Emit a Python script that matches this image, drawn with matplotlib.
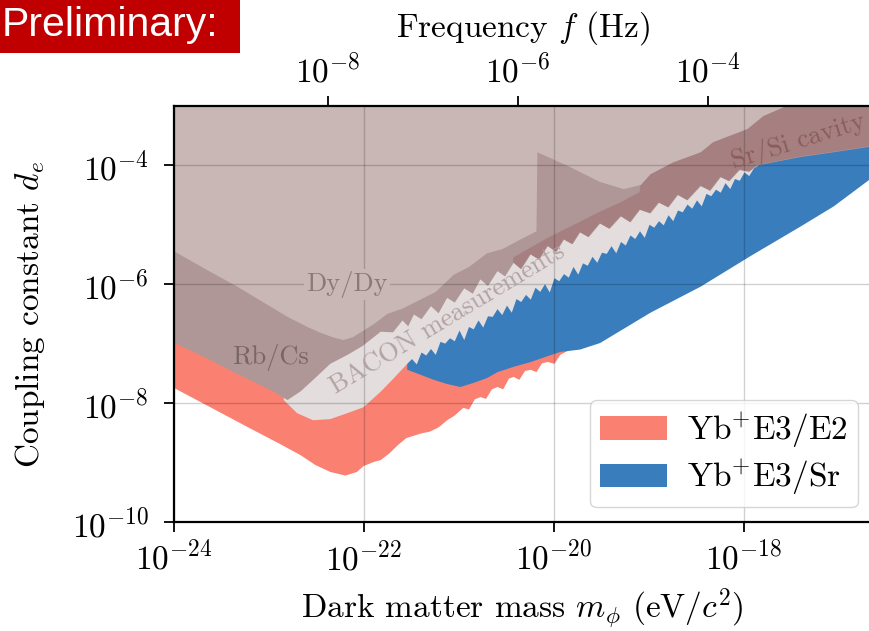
import numpy as np
import matplotlib
matplotlib.use("Agg")
import matplotlib.pyplot as plt
from matplotlib.patches import Patch, Rectangle
from matplotlib.ticker import NullLocator, FixedLocator

plt.rcParams["font.family"] = "serif"
plt.rcParams["font.serif"] = ["cmr10"]
plt.rcParams["mathtext.fontset"] = "cm"
plt.rcParams["axes.formatter.use_mathtext"] = True
plt.rcParams["font.size"] = 24

# ---------------- data (log10 of mass in eV/c^2, log10 of coupling d_e) -------------
# Yb+ E3/E2 exclusion: lower edge
SALMON_M = [-24.00, -23.60, -23.20, -22.90, -22.67, -22.52, -22.36, -22.20, -22.08, -22.01,
            -21.90, -21.83, -21.74, -21.65, -21.56, -21.48, -21.40, -21.31, -21.22, -21.13,
            -21.05, -20.96, -20.90, -20.84, -20.78, -20.72, -20.66, -20.60, -20.54, -20.48,
            -20.43, -20.37, -20.31, -20.25, -20.19, -20.13, -20.07, -20.00, -19.94, -19.73,
            -19.52, -16.60]
SALMON_LO = [-7.74, -8.08, -8.42, -8.67, -8.87, -9.03, -9.15, -9.21, -9.15, -9.05,
             -8.98, -8.95, -8.84, -8.70, -8.58, -8.54, -8.50, -8.47, -8.40, -8.28,
             -8.20, -8.07, -8.10, -7.93, -7.89, -7.92, -7.76, -7.72, -7.76, -7.58,
             -7.55, -7.60, -7.45, -7.43, -7.47, -7.32, -7.30, -7.33, -7.18, -7.00,
             -6.86, -4.05]

# Yb+ E3/Sr exclusion: lower edge
BLUE_M = [-21.55, -21.40, -21.27, -21.13, -20.99, -20.85, -20.71, -20.60, -20.43, -20.25,
          -20.07, -19.94, -19.73, -19.52, -18.99, -18.46, -17.94, -17.41, -17.06, -16.65]
BLUE_LO = [-7.43, -7.52, -7.60, -7.67, -7.72, -7.65, -7.57, -7.47, -7.38, -7.30,
           -7.20, -7.13, -7.09, -6.98, -6.47, -6.03, -5.52, -5.02, -4.68, -4.19]

# BACON measurements: lower edge (smooth part, then jagged part over Yb+E3/Sr)
BACON_M = [-22.85, -22.71, -22.54, -22.36, -22.18, -22.01, -21.83, -21.69, -21.55]
BACON_LO = [-7.94, -8.16, -8.28, -8.26, -8.16, -8.06, -7.80, -7.57, -7.33]
BACON_PEAK_M = [-21.5, -21.4, -21.3, -21.2, -21.1, -21.0, -20.9, -20.8, -20.7, -20.6,
                -20.5, -20.4, -20.3, -20.2, -20.1, -20.0, -19.9, -19.8, -19.7, -19.6,
                -19.5, -19.4, -19.3, -19.2, -19.1, -19.0, -18.9, -18.8, -18.7, -18.6,
                -18.5, -18.4, -18.3, -18.2, -18.1, -18.0, -17.9, -17.86]
BACON_PEAK_LO = [-7.25, -7.14, -7.08, -6.96, -6.90, -6.77, -6.71, -6.60, -6.53, -6.41,
                 -6.35, -6.24, -6.17, -6.05, -5.99, -5.89, -5.82, -5.70, -5.64, -5.53,
                 -5.46, -5.35, -5.28, -5.17, -5.10, -4.99, -4.93, -4.83, -4.75, -4.65,
                 -4.58, -4.47, -4.40, -4.29, -4.22, -4.11, -4.04, -4.00]
BACON_DIP_M = [-21.45, -21.35, -21.25, -21.15, -21.05, -20.95, -20.85, -20.75, -20.65, -20.55,
               -20.45, -20.35, -20.25, -20.15, -20.05, -19.95, -19.85, -19.75, -19.65, -19.55,
               -19.45, -19.35, -19.25, -19.15, -19.05, -18.95, -18.85, -18.75, -18.65, -18.55,
               -18.45, -18.35, -18.25, -18.15, -18.05, -17.95]
BACON_DIP_LO = [-7.34, -7.19, -7.18, -6.99, -6.95, -6.93, -6.75, -6.72, -6.54, -6.51,
                -6.47, -6.29, -6.25, -6.12, -6.13, -5.94, -5.88, -5.83, -5.68, -5.63,
                -5.48, -5.47, -5.34, -5.23, -5.21, -5.04, -5.00, -4.93, -4.78, -4.72,
                -4.68, -4.51, -4.45, -4.39, -4.25, -4.17]

# Rb/Cs and other constraints: lower edge (= upper edge of BACON band)
DARK_M = [-24.00, -23.67, -23.34, -22.99, -22.81, -22.67, -22.54, -22.36, -22.18, -22.02,
          -21.83, -21.70, -21.60, -21.54, -21.48, -21.40, -21.30, -21.22, -21.13, -21.05,
          -20.95, -20.86, -20.78, -20.70, -20.60, -20.52, -20.43, -20.35, -20.25, -20.16,
          -20.07, -19.98, -19.90, -19.81, -19.73, -19.64, -19.52, -19.42, -19.30, -19.20,
          -19.10, -18.99, -18.90, -18.80, -18.70, -18.60, -18.46, -18.36, -18.25, -18.16,
          -18.05, -17.95, -17.86, -17.41, -17.06, -16.65]
DARK_LO = [-6.98, -7.23, -7.50, -7.77, -7.94, -7.79, -7.60, -7.33, -7.18, -7.03,
           -6.79, -6.80, -6.60, -6.70, -6.50, -6.58, -6.36, -6.48, -6.22, -6.30,
           -6.06, -6.15, -5.91, -6.02, -5.77, -5.86, -5.63, -5.74, -5.49, -5.58,
           -5.35, -5.45, -5.24, -5.32, -5.12, -5.20, -4.97, -5.06, -4.85, -4.95,
           -4.74, -4.80, -4.62, -4.70, -4.49, -4.58, -4.34, -4.42, -4.19, -4.26,
           -4.07, -4.10, -3.99, -3.85, -3.77, -3.67]

# Sr/Si cavity (darker band) upper edge
SRSI_M = [-16.65, -17.60, -17.86, -18.05, -18.25, -18.46, -18.75, -18.99, -19.10, -19.30,
          -19.52, -19.73, -20.07, -20.43]
SRSI_HI = [-2.90, -2.90, -3.00, -3.00, -3.00, -3.00, -3.00, -3.00, -4.45, -4.62,
           -4.78, -4.95, -5.22, -5.55]

# Dy/Dy (light region) lower edge
LIGHT_M = [-24.00, -23.67, -23.34, -23.07, -22.81, -22.60, -22.46, -22.32, -22.22, -22.12,
           -22.01, -21.90, -21.76, -21.60, -21.41, -21.25, -21.06, -20.90, -20.71, -20.55,
           -20.36, -20.19, -20.18, -19.86, -19.52, -19.27, -19.09, -18.99, -18.75, -18.46,
           -18.33, -17.97, -17.80, -17.57, -17.45]
LIGHT_LO = [-5.44, -5.74, -6.03, -6.29, -6.54, -6.71, -6.81, -6.89, -6.93, -6.88,
            -6.77, -6.66, -6.49, -6.40, -6.25, -6.12, -5.83, -5.70, -5.47, -5.40,
            -5.24, -5.10, -3.77, -4.00, -4.27, -4.39, -4.32, -4.14, -3.94, -3.77,
            -3.60, -3.38, -3.16, -3.00, -3.00]

X_TICKS = [1e-24, 1e-22, 1e-20, 1e-18]
Y_TICKS = [1e-10, 1e-8, 1e-6, 1e-4]
F_TICKS = [1e-8, 1e-6, 1e-4]
LEGEND_LABELS = [r"Yb$^{+}$E3/E2", r"Yb$^{+}$E3/Sr"]

# ---------------- styling ----------------
C_SALMON = "#fa8072"
C_BLUE = "#3a7dbd"
C_BACON = "#e3dddd"
C_DARK = "#b09797"
C_SRSI = "#a68080"
C_LIGHT = "#c9b7b6"

H_EV = 4.135667e-15  # Planck constant in eV s

def p10(a):
    return np.power(10.0, np.asarray(a, dtype=float))

fig = plt.figure(figsize=(8.69, 6.31), dpi=100)
ax = fig.add_axes([174 / 869, 1 - 522 / 631, (871.6 - 174) / 869, (522 - 106) / 631])
ax.set_xscale("log")
ax.set_yscale("log")
TOP = 1e-2

ax.fill_between(p10(SALMON_M), p10(SALMON_LO), TOP, color=C_SALMON, lw=0, zorder=1.0)
ax.fill_between(p10(BLUE_M), p10(BLUE_LO), TOP, color=C_BLUE, lw=0, zorder=1.1)

bm = np.concatenate([BACON_M, BACON_PEAK_M, BACON_DIP_M])
bl = np.concatenate([BACON_LO, BACON_PEAK_LO, BACON_DIP_LO])
order = np.argsort(bm)
ax.fill_between(p10(bm[order]), p10(bl[order]), TOP, color=C_BACON, lw=0, zorder=1.2)

ax.fill_between(p10(DARK_M), p10(DARK_LO), TOP, color=C_DARK, lw=0, zorder=1.3)

# Sr/Si cavity polygon: lower edge follows the constraint edge, upper edge from SRSI arrays
dm = np.asarray(DARK_M)
dl = np.asarray(DARK_LO)
sel = dm >= min(SRSI_M) - 1e-9
poly_m = np.concatenate([dm[sel], SRSI_M])
poly_l = np.concatenate([dl[sel], SRSI_HI])
ax.fill(p10(poly_m), p10(poly_l), color=C_SRSI, lw=0, zorder=1.4)

ax.fill_between(p10(LIGHT_M), p10(LIGHT_LO), TOP, color=C_LIGHT, lw=0, zorder=1.5)

ax.set_xlim(1e-24, 10 ** (-24 + (871.6 - 174) / 95))
ax.set_ylim(1e-10, 1e-3)
ax.xaxis.set_major_locator(FixedLocator(X_TICKS))
ax.yaxis.set_major_locator(FixedLocator(Y_TICKS))
ax.xaxis.set_minor_locator(NullLocator())
ax.yaxis.set_minor_locator(NullLocator())
ax.set_axisbelow(False)
ax.grid(True, color="k", alpha=0.18, lw=1.0)
ax.tick_params(direction="out", length=7, width=1.3, labelsize=24, pad=6)
ax.tick_params(axis="y", pad=11)
for s in ax.spines.values():
    s.set_linewidth(1.6)

ax.set_xlabel(r"Dark matter mass $m_\phi$ (eV/$c^2$)", fontsize=24, labelpad=8)
ax.set_ylabel(r"Coupling constant $d_e$", fontsize=24, labelpad=18)

sec = ax.secondary_xaxis("top", functions=(lambda m: m / H_EV, lambda f: f * H_EV))
sec.xaxis.set_major_locator(FixedLocator(F_TICKS))
sec.xaxis.set_minor_locator(NullLocator())
sec.tick_params(direction="out", length=7, width=1.3, labelsize=24, pad=6)
sec.set_xlabel(r"Frequency $f$ (Hz)", fontsize=24, labelpad=12)

# region labels
ax.text(10 ** -22.18, 10 ** -6.0, "Dy/Dy", fontsize=19, color="#8c7878", ha="center", va="center",
        zorder=3, bbox=dict(facecolor=C_LIGHT, edgecolor="none", pad=1.5))
ax.text(10 ** -22.98, 10 ** -7.23, "Rb/Cs", fontsize=19, color="#7a6565", ha="center", va="center",
        zorder=3)
ax.text(10 ** -21.12, 10 ** -6.59, "BACON measurements", fontsize=19, color="#b3a3a3",
        ha="center", va="center", rotation=31, rotation_mode="anchor", zorder=3)
ax.text(10 ** -17.43, 10 ** -3.60, "Sr/Si cavity", fontsize=19, color="#8a5c5c",
        ha="center", va="center", rotation=17, rotation_mode="anchor", zorder=3, clip_on=True)

handles = [Patch(facecolor=C_SALMON, edgecolor="none"), Patch(facecolor=C_BLUE, edgecolor="none")]
leg = ax.legend(handles, LEGEND_LABELS, loc="lower right", bbox_to_anchor=(0.98, 0.035),
                borderaxespad=0, fontsize=24, handletextpad=0.6, handlelength=2.0,
                labelspacing=0.25, borderpad=0.3)
leg.set_zorder(5)

# "Preliminary:" banner
fig.patches.append(Rectangle((0, 1 - 53 / 631), 240 / 869, 53 / 631, transform=fig.transFigure,
                             facecolor="#c00000", edgecolor="none", zorder=0))
fig.text(2 / 869, 1 - 25 / 631, "Preliminary:", family="Liberation Sans", fontsize=29.5,
         color="white", ha="left", va="center")

fig.savefig("out.png", dpi=100)
